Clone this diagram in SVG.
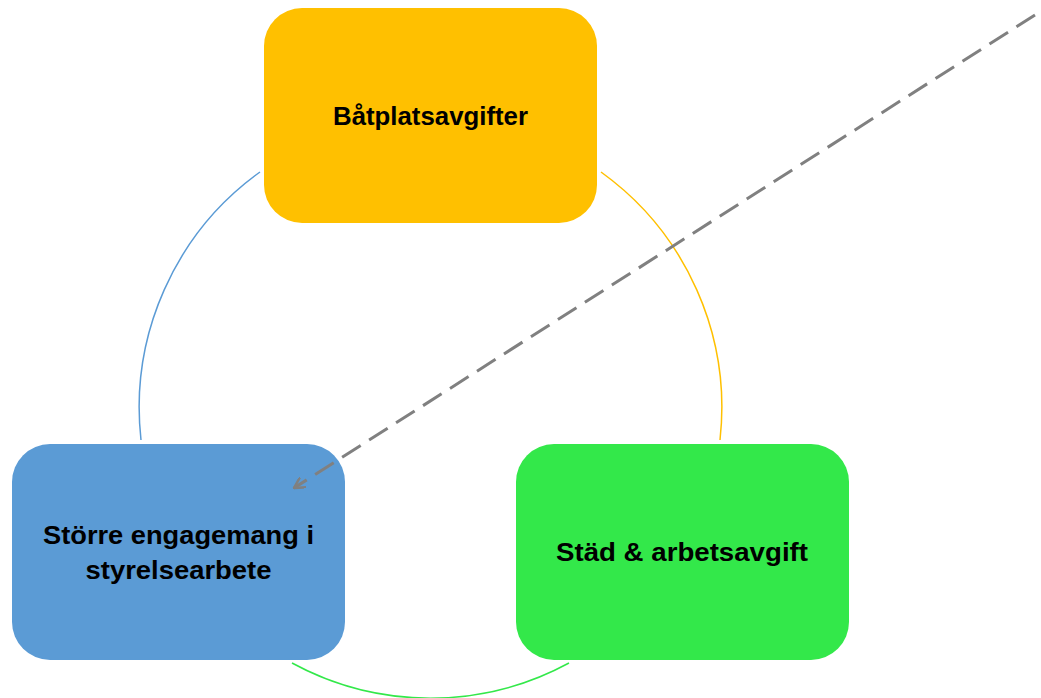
<svg xmlns="http://www.w3.org/2000/svg" width="1041" height="698" viewBox="0 0 1041 698">
<defs>
<style>
.lbl{font-family:"Liberation Sans",Arial,sans-serif;font-weight:bold;font-size:26px;fill:#000;text-anchor:middle}
.arc{fill:none;stroke-width:1.5}
</style>
<marker id="arr" viewBox="0 0 12 12" refX="11" refY="6" markerWidth="12" markerHeight="12" markerUnits="userSpaceOnUse" orient="auto">
<path d="M0,0 L11,6 L0,12" fill="none" stroke="#808080" stroke-width="2.5"/>
</marker>
</defs>
<rect width="1041" height="698" fill="#fff"/>
<g id="connectors">
<path class="arc" stroke="#5B9BD5" d="M260,172 A290.5,290.5 0 0 0 141,440"/>
<path class="arc" stroke="#FFC000" d="M601,172 A290.5,290.5 0 0 1 720,440"/>
<path class="arc" stroke="#33E84A" d="M292,663 A290.5,290.5 0 0 0 569,663"/>
</g>
<g id="node-top">
<rect x="264" y="8" width="333" height="215" rx="38" fill="#FFC000"/>
<text class="lbl" x="430.5" y="125" textLength="195" lengthAdjust="spacingAndGlyphs">Båtplatsavgifter</text>
</g>
<g id="node-left">
<rect x="12" y="444" width="333" height="216" rx="38" fill="#5B9BD5"/>
<text class="lbl" x="178.5" y="544" textLength="271" lengthAdjust="spacingAndGlyphs">Större engagemang i</text>
<text class="lbl" x="178.5" y="579" textLength="186" lengthAdjust="spacingAndGlyphs">styrelsearbete</text>
</g>
<g id="node-right">
<rect x="516" y="444" width="333" height="216" rx="38" fill="#33E84A"/>
<text class="lbl" x="682" y="561" textLength="252" lengthAdjust="spacingAndGlyphs">Städ &amp; arbetsavgift</text>
</g>
<g id="dashed">
<line x1="1035" y1="15" x2="294" y2="488" stroke="#808080" stroke-width="3" stroke-dasharray="22 10" marker-end="url(#arr)"/>
</g>
</svg>
